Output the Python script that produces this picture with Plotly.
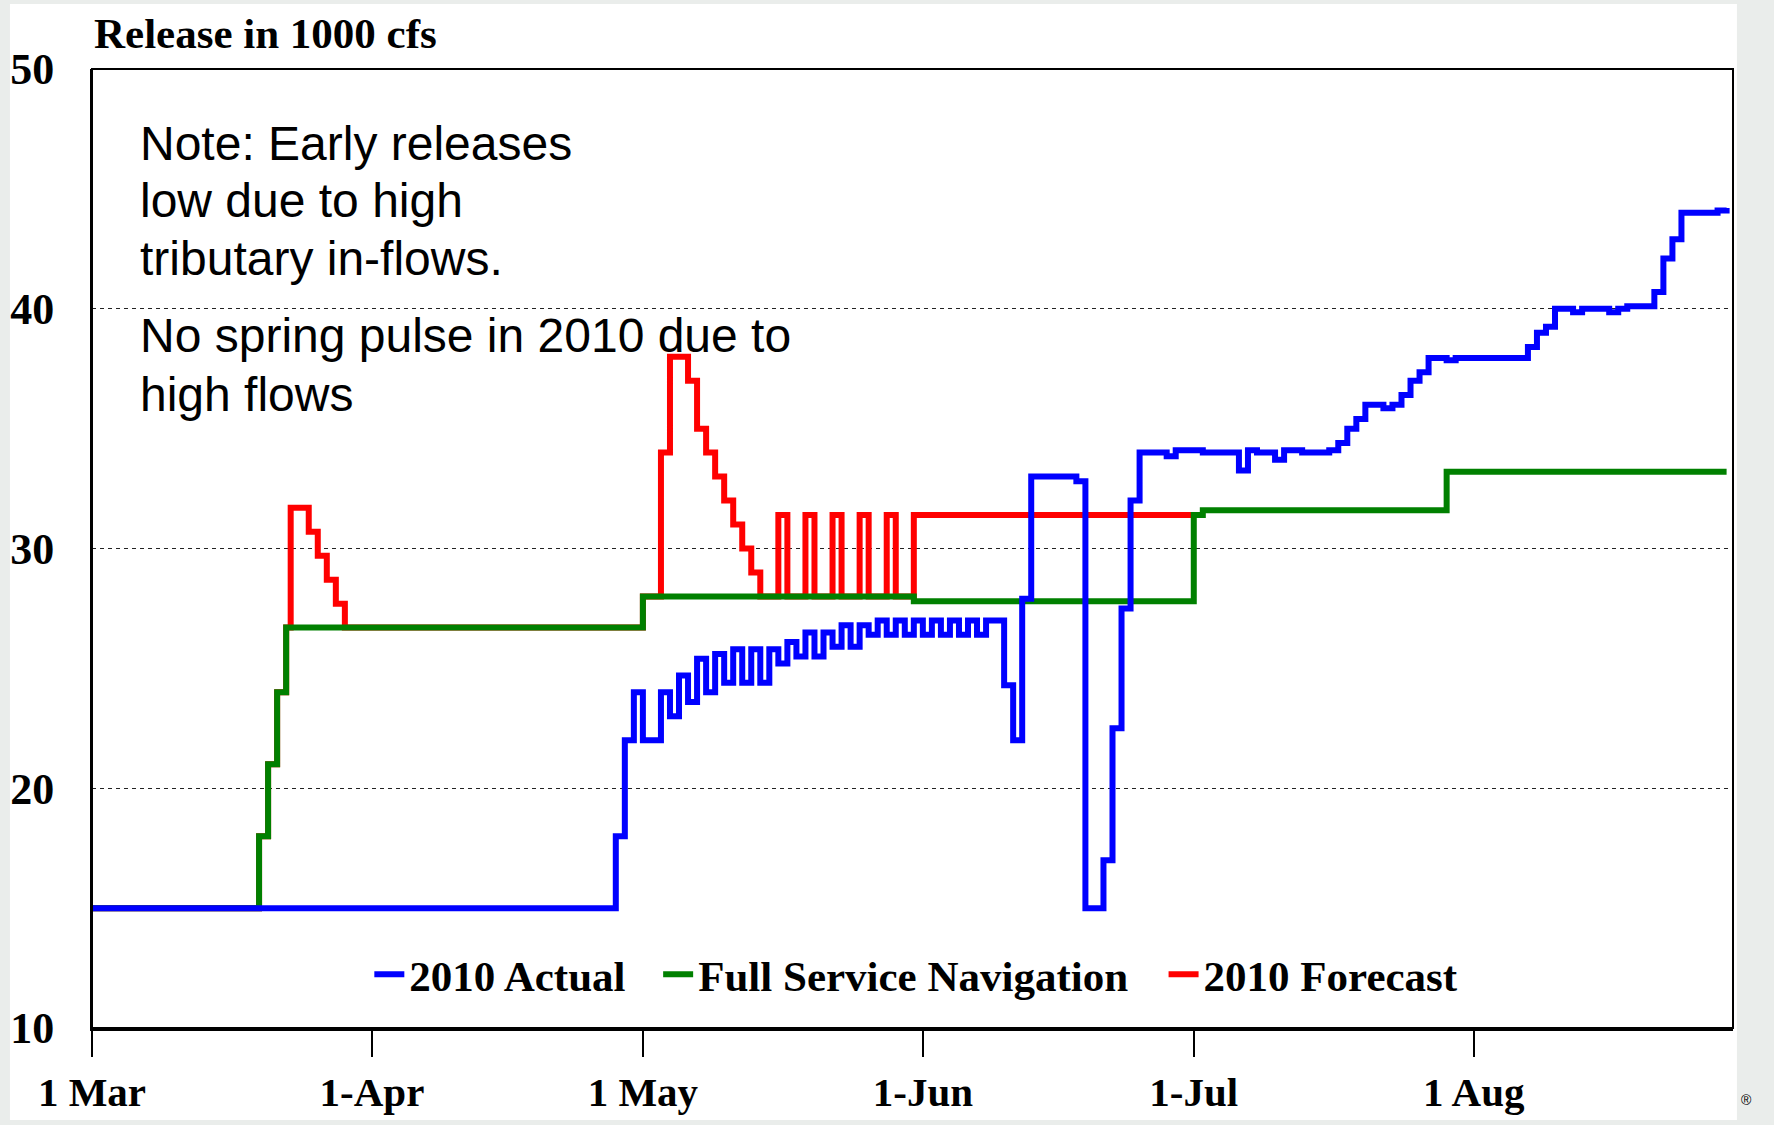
import plotly.graph_objects as go

# 2010 release schedule, values in 1000 cfs; each value holds from its date until the next one

actual_dates = [
    "2010-03-01", "2010-04-28", "2010-04-29", "2010-04-30", "2010-05-01",
    "2010-05-03", "2010-05-04", "2010-05-05", "2010-05-06", "2010-05-07",
    "2010-05-08", "2010-05-09", "2010-05-10", "2010-05-11", "2010-05-12",
    "2010-05-13", "2010-05-14", "2010-05-15", "2010-05-16", "2010-05-17",
    "2010-05-18", "2010-05-19", "2010-05-20", "2010-05-21", "2010-05-22",
    "2010-05-23", "2010-05-24", "2010-05-25", "2010-05-26", "2010-05-27",
    "2010-05-28", "2010-05-29", "2010-05-30", "2010-05-31", "2010-06-01",
    "2010-06-02", "2010-06-03", "2010-06-04", "2010-06-05", "2010-06-06",
    "2010-06-07", "2010-06-08", "2010-06-10", "2010-06-11", "2010-06-12",
    "2010-06-13", "2010-06-18", "2010-06-19", "2010-06-21", "2010-06-22",
    "2010-06-23", "2010-06-24", "2010-06-25", "2010-06-28", "2010-06-29",
    "2010-07-02", "2010-07-06", "2010-07-07", "2010-07-08", "2010-07-10",
    "2010-07-11", "2010-07-13", "2010-07-16", "2010-07-17", "2010-07-18",
    "2010-07-19", "2010-07-20", "2010-07-22", "2010-07-23", "2010-07-24",
    "2010-07-25", "2010-07-26", "2010-07-27", "2010-07-29", "2010-07-30",
    "2010-08-07", "2010-08-08", "2010-08-09", "2010-08-10", "2010-08-12",
    "2010-08-13", "2010-08-16", "2010-08-17", "2010-08-18", "2010-08-21",
    "2010-08-22", "2010-08-23", "2010-08-24", "2010-08-28", "2010-08-29",
]
actual_kcfs = [
    15.0, 18.0, 22.0, 24.0, 22.0,
    24.0, 23.0, 24.7, 23.6, 25.4,
    24.0, 25.6, 24.4, 25.8, 24.4,
    25.8, 24.4, 25.8, 25.2, 26.1,
    25.5, 26.5, 25.5, 26.5, 25.9,
    26.8, 25.9, 26.8, 26.4, 27.0,
    26.4, 27.0, 26.4, 27.0, 26.4,
    27.0, 26.4, 27.0, 26.4, 27.0,
    26.4, 27.0, 24.3, 22.0, 27.9,
    33.0, 32.8, 15.0, 17.0, 22.5,
    27.5, 32.0, 34.0, 33.85, 34.1,
    34.0, 33.25, 34.1, 34.0, 33.7,
    34.1, 34.0, 34.1, 34.4, 35.0,
    35.4, 36.0, 35.85, 36.0, 36.4,
    37.0, 37.35, 37.95, 37.85, 37.95,
    38.4, 39.0, 39.25, 40.0, 39.85,
    40.0, 39.85, 40.0, 40.1, 40.7,
    42.1, 42.9, 44.0, 44.1, 44.2,
]

fsn_dates = [
    "2010-03-01", "2010-03-19 12:00", "2010-03-20 12:00", "2010-03-21 12:00",
    "2010-03-22 12:00", "2010-05-01", "2010-05-31", "2010-07-01", "2010-07-02",
    "2010-07-29", "2010-08-29",
]
fsn_kcfs = [15.0, 18.0, 21.0, 24.0, 26.7, 28.0, 27.8, 31.4, 31.6, 33.2, 33.2]

forecast_dates = [
    "2010-03-01", "2010-03-19 12:00", "2010-03-20 12:00", "2010-03-21 12:00",
    "2010-03-22 12:00", "2010-03-23", "2010-03-25", "2010-03-26", "2010-03-27",
    "2010-03-28", "2010-03-29", "2010-05-01", "2010-05-03", "2010-05-04",
    "2010-05-06", "2010-05-07", "2010-05-08", "2010-05-09", "2010-05-10",
    "2010-05-11", "2010-05-12", "2010-05-13", "2010-05-14", "2010-05-16",
    "2010-05-17", "2010-05-19", "2010-05-20", "2010-05-22", "2010-05-23",
    "2010-05-25", "2010-05-26", "2010-05-28", "2010-05-29", "2010-05-31",
    "2010-07-01",
]
forecast_kcfs = [
    15.0, 18.0, 21.0, 24.0,
    26.7, 31.7, 30.7, 29.7, 28.7,
    27.7, 26.7, 28.0, 34.0, 38.0,
    37.0, 35.0, 34.0, 33.0, 32.0,
    31.0, 30.0, 29.0, 28.0, 31.4,
    28.0, 31.4, 28.0, 31.4, 28.0,
    31.4, 28.0, 31.4, 28.0, 31.4,
    31.4,
]

tick_dates = ["2010-03-01", "2010-04-01", "2010-05-01", "2010-06-01", "2010-07-01", "2010-08-01"]
tick_labels = ["1 Mar", "1-Apr", "1 May", "1-Jun", "1-Jul", "1 Aug"]
y_ticks = [10, 20, 30, 40, 50]

note_lines = [
    "Note: Early releases",
    "low due to high",
    "tributary in-flows.",
    "No spring pulse in 2010 due to",
    "high flows",
]
note_y = [0.9218, 0.8624, 0.8019, 0.7216, 0.6611]

SERIF = "Liberation Serif, Times New Roman, serif"
SANS = "Liberation Sans, Arial, sans-serif"
LEGEND_FONT = dict(family=SERIF, size=43, color="black", weight="bold")

fig = go.Figure()
# red first, blue last so the actual flow sits on top; each gets its own legend box
for name, xs, ys, color, leg in [
    ("2010 Forecast", forecast_dates, forecast_kcfs, "#ff0000", "legend3"),
    ("Full Service Navigation", fsn_dates, fsn_kcfs, "#008000", "legend2"),
    ("2010 Actual", actual_dates, actual_kcfs, "#0000ff", "legend"),
]:
    fig.add_trace(go.Scatter(
        x=xs, y=ys, name=name, mode="lines", legend=leg,
        line=dict(color=color, width=6, shape="hv"),
    ))

annotations = [
    dict(text="Release in 1000 cfs", xref="paper", yref="paper", x=0, y=1.0365,
         xanchor="left", yanchor="middle", showarrow=False,
         font=dict(family=SERIF, size=43, color="black", weight="bold")),
    dict(text="®", xref="paper", yref="paper", x=1.008, y=-0.075,
         xanchor="center", yanchor="middle", showarrow=False,
         font=dict(family=SANS, size=14, color="black")),
]
for line, yy in zip(note_lines, note_y):
    annotations.append(dict(
        text=line, xref="paper", yref="paper", x=0.0278, y=yy,
        xanchor="left", yanchor="middle", showarrow=False,
        font=dict(family=SANS, size=48, color="black"),
    ))

legend_box = dict(orientation="h", y=0.056, xanchor="left", yanchor="middle",
                  bgcolor="rgba(0,0,0,0)", borderwidth=0, font=LEGEND_FONT)

fig.update_layout(
    width=1774, height=1125,
    margin=dict(l=92, r=41, t=69, b=97, autoexpand=False),
    paper_bgcolor="#eaedeb",
    plot_bgcolor="white",
    showlegend=True,
    legend=dict(legend_box, x=0.169),
    legend2=dict(legend_box, x=0.345),
    legend3=dict(legend_box, x=0.653),
    xaxis=dict(
        type="date", range=["2010-03-01", "2010-08-29 17:00"],
        tickvals=tick_dates, ticktext=tick_labels,
        ticks="outside", ticklen=26, tickwidth=2, tickcolor="black",
        showgrid=False, zeroline=False,
        showline=True, linecolor="black", linewidth=3,
        tickfont=dict(family=SERIF, size=41, color="black", weight="bold"),
    ),
    yaxis=dict(
        range=[10, 50], tickvals=y_ticks, ticks="",
        showgrid=True, gridcolor="#222222", gridwidth=1.2, griddash="4px,4px",
        zeroline=False, showline=True, linecolor="black", linewidth=2,
        ticklabelstandoff=27,
        tickfont=dict(family=SERIF, size=44, color="black", weight="bold"),
    ),
    annotations=annotations,
    shapes=[
        dict(type="rect", xref="paper", yref="paper", x0=-0.05, x1=1.0024,
             y0=-0.0959, y1=1.0678, fillcolor="white", line=dict(width=0), layer="below"),
        dict(type="rect", xref="paper", yref="paper", x0=0, x1=1, y0=0, y1=1,
             line=dict(color="black", width=2), layer="above"),
    ],
)

fig.write_html(
    "out.html",
    config={"displayModeBar": False},
    post_script="document.body.style.margin = '0px';",
)
